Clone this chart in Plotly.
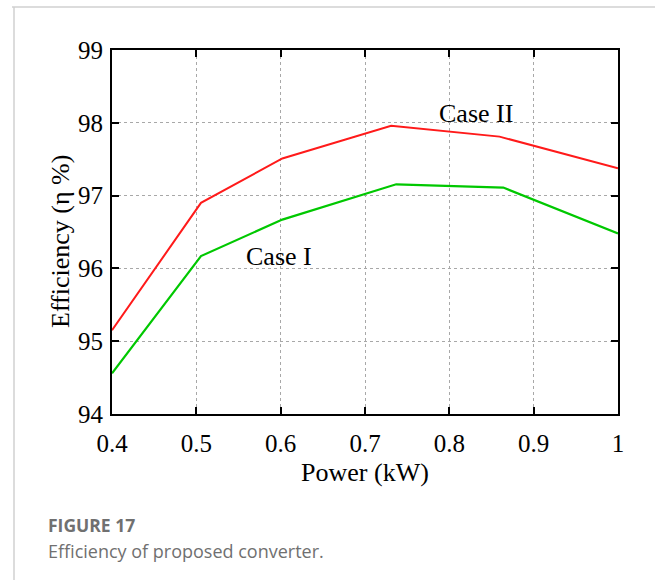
import plotly.graph_objects as go

power_case2 = [0.4, 0.5055, 0.602, 0.731, 0.8595, 1.0]
eff_case2 = [95.15, 96.90, 97.51, 97.96, 97.81, 97.375]
power_case1 = [0.4, 0.5055, 0.602, 0.737, 0.864, 1.0]
eff_case1 = [94.56, 96.17, 96.67, 97.155, 97.11, 96.48]

x_ticks = [0.4, 0.5, 0.6, 0.7, 0.8, 0.9, 1.0]
x_tick_labels = ["0.4", "0.5", "0.6", "0.7", "0.8", "0.9", "1"]
y_ticks = [94, 95, 96, 97, 98, 99]

serif = "Liberation Serif, Times New Roman, serif"

fig = go.Figure()
fig.add_trace(go.Scatter(x=power_case2, y=eff_case2, mode="lines",
                         line=dict(color="#ff1a1a", width=2), name="Case II"))
fig.add_trace(go.Scatter(x=power_case1, y=eff_case1, mode="lines",
                         line=dict(color="#00c800", width=2.2), name="Case I"))

axis_common = dict(showline=True, linecolor="black", linewidth=2, mirror="ticks",
                   ticks="inside", ticklen=7, tickwidth=2, tickcolor="black",
                   showgrid=True, gridcolor="#a8a8a8", gridwidth=1, griddash="dot",
                   zeroline=False, tickfont=dict(family=serif, size=25, color="black"))

fig.update_xaxes(range=[0.4, 1.0], tickvals=x_ticks, ticktext=x_tick_labels,
                 ticklabelstandoff=6,
                 title=dict(text="Power (kW)", font=dict(family=serif, size=26, color="black"),
                            standoff=7), **axis_common)
fig.update_yaxes(range=[94, 99], tickvals=y_ticks, ticklabelstandoff=2, **axis_common)

L, R, T, B = 112, 618, 50, 414
W = R - L
H = B - T
def px(x):
    return (x - L) / W
def py(y):
    return (B - y) / H

fig.add_annotation(xref="paper", yref="paper", x=px(60), y=py(242), textangle=-90,
                   text="Efficiency (η %)", showarrow=False, xanchor="center", yanchor="middle",
                   font=dict(family=serif, size=26, color="black"))

fig.add_annotation(x=0.832, y=98.13, text="Case II", showarrow=False,
                   font=dict(family=serif, size=26, color="black"))
fig.add_annotation(x=0.598, y=96.17, text="Case I", showarrow=False,
                   font=dict(family=serif, size=26, color="black"))

fig.add_shape(type="line", xref="paper", yref="paper", x0=px(12), x1=px(655), y0=py(7), y1=py(7),
              line=dict(color="#d0d0d0", width=1.5))
fig.add_shape(type="line", xref="paper", yref="paper", x0=px(14), x1=px(14), y0=py(7), y1=py(580),
              line=dict(color="#d0d0d0", width=1.5))

fig.add_annotation(xref="paper", yref="paper", x=px(46), y=py(525), xanchor="left", yanchor="middle",
                   text="<b>FIGURE 17</b>", showarrow=False,
                   font=dict(family="Open Sans, Lato, sans-serif", size=17.5, color="#707070"))
fig.add_annotation(xref="paper", yref="paper", x=px(46), y=py(551), xanchor="left", yanchor="middle",
                   text="Efficiency of proposed converter.", showarrow=False,
                   font=dict(family="Open Sans, Lato, sans-serif", size=18, color="#707070"))

fig.update_layout(width=655, height=580, showlegend=False,
                  margin=dict(l=L, r=655 - R, t=T, b=580 - B),
                  paper_bgcolor="white", plot_bgcolor="white")

fig.write_html("out.html")
